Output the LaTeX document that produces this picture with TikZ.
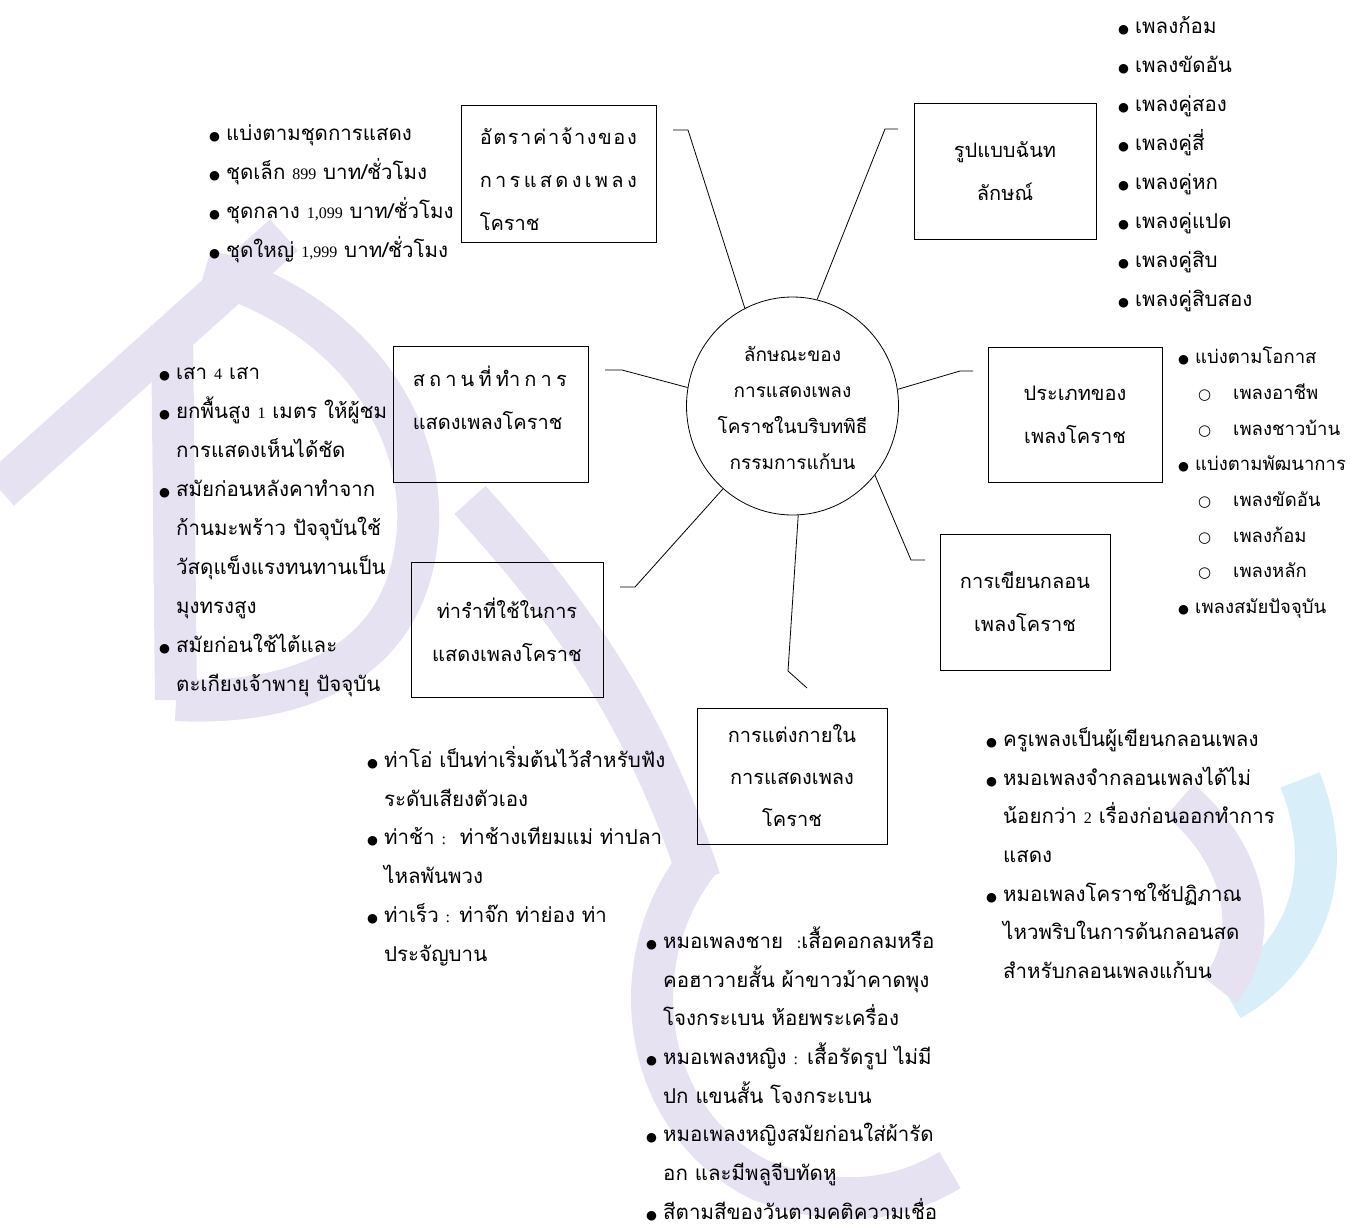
\documentclass[tikz,border=0pt]{standalone}
\usepackage{fontspec}
\usepackage{xcolor}
\usepackage{tikz}
\usetikzlibrary{shapes.geometric, positioning}

\newfontfamily\thaifont[Script=Thai]{Loma}
\newfontfamily\symfont{DejaVu Sans}
\newfontfamily\numfont{Liberation Serif}

\definecolor{wmlilac}{RGB}{230,226,241}
\definecolor{wmcyan}{RGB}{216,238,248}

% list marks
\newcommand{\dotb}{\makebox[17pt][l]{\symfont\fontsize{12.5}{12.5}\selectfont ●}}
\newcommand{\ringb}{\hspace*{20pt}\makebox[35pt][l]{\symfont\fontsize{15}{15}\selectfont ○}}
\newcommand{\cont}{\hspace*{17pt}}
\newcommand{\nm}[1]{{\numfont\fontsize{16}{16}\selectfont #1}}
\newcommand{\spread}[2]{\makebox[#1][s]{#2}}

\begin{document}
\begin{tikzpicture}[x=1pt, y=-1pt,
    topic/.style={draw=black, line width=0.8pt, inner sep=0pt, align=center,
      font=\thaifont\fontsize{20}{43}\selectfont},
    hub/.style={ellipse, draw=black, line width=0.8pt, inner sep=0pt,
      minimum width=212pt, minimum height=218pt},
    caption/.style={inner sep=0pt, align=left, font=\thaifont\fontsize{20}{43}\selectfont},
    points/.style={anchor=north west, inner sep=0pt, align=left,
      font=\thaifont\fontsize{20.5}{39}\selectfont},
    link/.style={line width=0.8pt},
    wm/.style={line width=42pt, wmlilac}
  ]
  \useasboundingbox (0,0) rectangle (1351,1224);

  % watermark behind everything
  \draw[wm] (284,235) -- (0,490);
  \draw[wm] (172,325) -- (176,700);
  \draw[wm] (205,270) .. controls (380,320) and (450,470) .. (405,590)
    .. controls (370,680) and (270,705) .. (176,700);
  \draw[wm] (470,500) .. controls (560,600) and (640,700) .. (700,880);
  \draw[wm] (700,860) .. controls (620,960) and (640,1120) .. (760,1180)
    .. controls (840,1210) and (900,1200) .. (950,1170);
  \draw[wm, wmcyan] (1300,780) .. controls (1340,880) and (1300,960) .. (1230,1000);
  \draw[wm] (1180,800) .. controls (1250,860) and (1260,940) .. (1220,990);

  % centre
  \node[hub] (hub) at (792.5,406) {};
  \node[align=center, inner sep=0pt, font=\thaifont\fontsize{19}{36}\selectfont] (hubText)
    at ([yshift=-2pt]hub.center)
    {ลักษณะของ\\การแสดงเพลง\\โคราชในบริบทพิธี\\กรรมการแก้บน};

  % topic boxes
  \node[topic, minimum width=195pt, minimum height=137pt] (rateBox) at (558.5,173.5) {};
  \node[caption, anchor=west, xshift=19pt, yshift=-6pt] (rateText) at (rateBox.west)
    {\spread{157pt}{อั\hfill ต\hfill ร\hfill า\hfill ค่\hfill า\hfill จ้\hfill า\hfill ง\hfill ข\hfill อ\hfill ง}\\
     \spread{157pt}{ก\hfill า\hfill ร\hfill แ\hfill ส\hfill ด\hfill ง\hfill เ\hfill พ\hfill ล\hfill ง}\\
     โคราช};
  \node[topic, minimum width=182pt, minimum height=136pt] (formBox) at (1005,171)
    {รูปแบบฉันท\\ลักษณ์};
  \node[topic, minimum width=195pt, minimum height=136pt] (placeBox) at (490.5,414) {};
  \node[caption, anchor=west, xshift=20pt, yshift=16pt] (placeText) at (placeBox.west)
    {\spread{154pt}{ส\hfill ถ\hfill า\hfill น\hfill ที่\hfill ทำ\hfill ก\hfill า\hfill ร}\\
     แสดงเพลงโคราช};
  \node[topic, minimum width=174pt, minimum height=135pt] (typeBox) at (1075,414.5)
    {ประเภทของ\\เพลงโคราช};
  \node[topic, minimum width=170pt, minimum height=136pt] (writeBox) at (1025,602)
    {การเขียนกลอน\\เพลงโคราช};
  \node[topic, minimum width=192pt, minimum height=135pt] (moveBox) at (507,629.5)
    {ท่ารำที่ใช้ในการ\\แสดงเพลงโคราช};
  \node[topic, minimum width=190pt, minimum height=136pt,
    font=\thaifont\fontsize{20}{42}\selectfont] (dressBox) at (792,776)
    {การแต่งกายใน\\การแสดงเพลง\\โคราช};

  % connectors, each ends short of its box
  \coordinate (rateEnd) at (673,130);
  \coordinate (formEnd) at (898,129);
  \coordinate (placeEnd) at (605,370);
  \coordinate (typeEnd) at (973,371);
  \coordinate (writeEnd) at (925,560);
  \coordinate (dressEnd) at (807,688);
  \coordinate (moveEnd) at (620,587);
  \draw[link] (hub.116) -- (688,130) -- (rateEnd);
  \draw[link] (hub.77) -- (885,129) -- (formEnd);
  \draw[link] (hub.170) -- (622,370) -- (placeEnd);
  \draw[link] (hub.9) -- (960,371) -- (typeEnd);
  \draw[link] (hub.-40) -- (911,560) -- (writeEnd);
  \draw[link] (hub.273) -- (788,671) -- (dressEnd);
  \draw[link] (hub.230) -- (635,587) -- (moveEnd);

  % bullet lists
  \node[points] (rateList) at (209,113)
    {\strut\dotb แบ่งตามชุดการแสดง\\
     \dotb ชุดเล็ก \nm{899} บาท/ชั่วโมง\\
     \dotb ชุดกลาง \nm{1,099} บาท/ชั่วโมง\\
     \dotb ชุดใหญ่ \nm{1,999} บาท/ชั่วโมง};
  \node[points] (formList) at (1118,6)
    {\strut\dotb เพลงก้อม\\
     \dotb เพลงขัดอัน\\
     \dotb เพลงคู่สอง\\
     \dotb เพลงคู่สี่\\
     \dotb เพลงคู่หก\\
     \dotb เพลงคู่แปด\\
     \dotb เพลงคู่สิบ\\
     \dotb เพลงคู่สิบสอง};
  \node[points, font=\thaifont\fontsize{18.5}{35.7}\selectfont] (typeList) at (1178,338.5)
    {\strut\dotb แบ่งตามโอกาส\\
     \ringb เพลงอาชีพ\\
     \ringb เพลงชาวบ้าน\\
     \dotb แบ่งตามพัฒนาการ\\
     \ringb เพลงขัดอัน\\
     \ringb เพลงก้อม\\
     \ringb เพลงหลัก\\
     \dotb เพลงสมัยปัจจุบัน};
  \node[points] (placeList) at (159,352)
    {\strut\dotb เสา \nm{4} เสา\\
     \dotb ยกพื้นสูง \nm{1} เมตร ให้ผู้ชม\\
     \cont การแสดงเห็นได้ชัด\\
     \dotb สมัยก่อนหลังคาทำจาก\\
     \cont ก้านมะพร้าว ปัจจุบันใช้\\
     \cont วัสดุแข็งแรงทนทานเป็น\\
     \cont มุงทรงสูง\\
     \dotb สมัยก่อนใช้ไต้และ\\
     \cont ตะเกียงเจ้าพายุ ปัจจุบัน};
  \node[points, font=\thaifont\fontsize{20.5}{38.8}\selectfont] (moveList) at (367,740)
    {\strut\dotb ท่าโอ่ เป็นท่าเริ่มต้นไว้สำหรับฟัง\\
     \cont ระดับเสียงตัวเอง\\
     \dotb ท่าช้า \nm{:}\ \ ท่าช้างเทียมแม่ ท่าปลา\\
     \cont ไหลพันพวง\\
     \dotb ท่าเร็ว \nm{:} ท่าจ๊ก ท่าย่อง ท่า\\
     \cont ประจัญบาน};
  \node[points, font=\thaifont\fontsize{20.5}{38.7}\selectfont] (dressList) at (646,921)
    {\strut\dotb หมอเพลงชาย\ \ \nm{:}เสื้อคอกลมหรือ\\
     \cont คอฮาวายสั้น ผ้าขาวม้าคาดพุง\\
     \cont โจงกระเบน ห้อยพระเครื่อง\\
     \dotb หมอเพลงหญิง \nm{:} เสื้อรัดรูป ไม่มี\\
     \cont ปก แขนสั้น โจงกระเบน\\
     \dotb หมอเพลงหญิงสมัยก่อนใส่ผ้ารัด\\
     \cont อก และมีพลูจีบทัดหู\\
     \dotb สีตามสีของวันตามคติความเชื่อ};
  \node[points, font=\thaifont\fontsize{20.5}{38.7}\selectfont] (writeList) at (986,719)
    {\strut\dotb ครูเพลงเป็นผู้เขียนกลอนเพลง\\
     \dotb หมอเพลงจำกลอนเพลงได้ไม่\\
     \cont น้อยกว่า \nm{2} เรื่องก่อนออกทำการ\\
     \cont แสดง\\
     \dotb หมอเพลงโคราชใช้ปฏิภาณ\\
     \cont ไหวพริบในการด้นกลอนสด\\
     \cont สำหรับกลอนเพลงแก้บน};
\end{tikzpicture}
\end{document}
